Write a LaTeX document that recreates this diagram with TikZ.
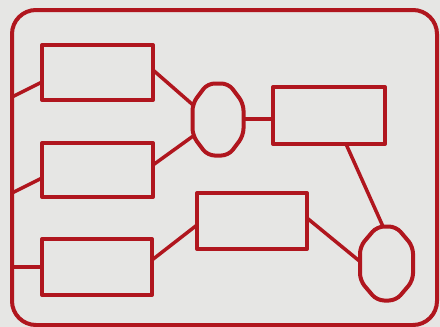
\documentclass[tikz,border=0pt]{standalone}
\usetikzlibrary{calc}
\definecolor{ink}{HTML}{B0161E}
\definecolor{paper}{HTML}{E6E6E4}
\newcommand\drawocto[3]{%
  \draw[ovalline] ($(#1.north west)+(#2,0)$) -- ($(#1.north east)+(-#2,0)$)
    -- ($(#1.north east)+(0,#3)$) -- ($(#1.south east)+(0,-#3)$)
    -- ($(#1.south east)+(-#2,0)$) -- ($(#1.south west)+(#2,0)$)
    -- ($(#1.south west)+(0,-#3)$) -- ($(#1.north west)+(0,#3)$) -- cycle;}
\begin{document}
\begin{tikzpicture}[x=1pt,y=-1pt,
  line width=4pt, ink, line join=round,
  box/.style={draw=ink, line width=4pt, inner sep=0pt, outer sep=0pt},
  oval/.style={inner sep=0pt, outer sep=0pt},
  ovalline/.style={draw=ink, line width=4pt, line join=round, rounded corners=7pt},
  wire/.style={draw=ink, line width=3.5pt}]
\fill[paper] (0,0) rectangle (440,327);
\useasboundingbox (0,0) rectangle (440,327);
\node[box, rounded corners=24pt, minimum width=425pt, minimum height=315pt] (frame) at (224.5,167.5) {};
\node[box, minimum width=111pt, minimum height=55pt] (b1) at (97.5,72.5) {};
\node[box, minimum width=111pt, minimum height=54pt] (b2) at (97.5,170) {};
\node[box, minimum width=110pt, minimum height=56pt] (b3) at (97,267) {};
\node[box, minimum width=110pt, minimum height=56pt] (b4) at (252,221) {};
\node[box, minimum width=112pt, minimum height=57pt] (b5) at (329,115.5) {};
\node[oval, minimum width=51pt, minimum height=72pt] (e1) at (218,119.5) {};
\node[oval, minimum width=53pt, minimum height=74pt] (e2) at (386.5,263.5) {};
\drawocto{e1}{15}{20}
\drawocto{e2}{17}{20}
\draw[wire] ($(frame.west |- b1.south)+(0,-3)$) -- ($(b1.west)+(0,9.5)$);
\draw[wire] ($(frame.west |- b2.south)+(0,-4)$) -- ($(b2.west)+(0,8)$);
\draw[wire] (frame.west |- b3.west) -- (b3.west);
\draw[wire] ($(b1.east)+(0,-2.5)$) -- ($(e1.west)+(0,-15)$);
\draw[wire] ($(b2.east)+(0,-5)$) -- ($(e1.west)+(0,17)$);
\draw[wire] (e1.east |- 0,119) -- (b5.west |- 0,119);
\draw[wire] ($(b5.south)+(17,0)$) -- ($(e2.north)+(-3.5,0)$);
\draw[wire] ($(b4.east)+(0,-3)$) -- ($(e2.west)+(0,-2)$);
\draw[wire] ($(b3.east)+(0,-7)$) -- ($(b4.west)+(0,4)$);
\end{tikzpicture}
\end{document}
